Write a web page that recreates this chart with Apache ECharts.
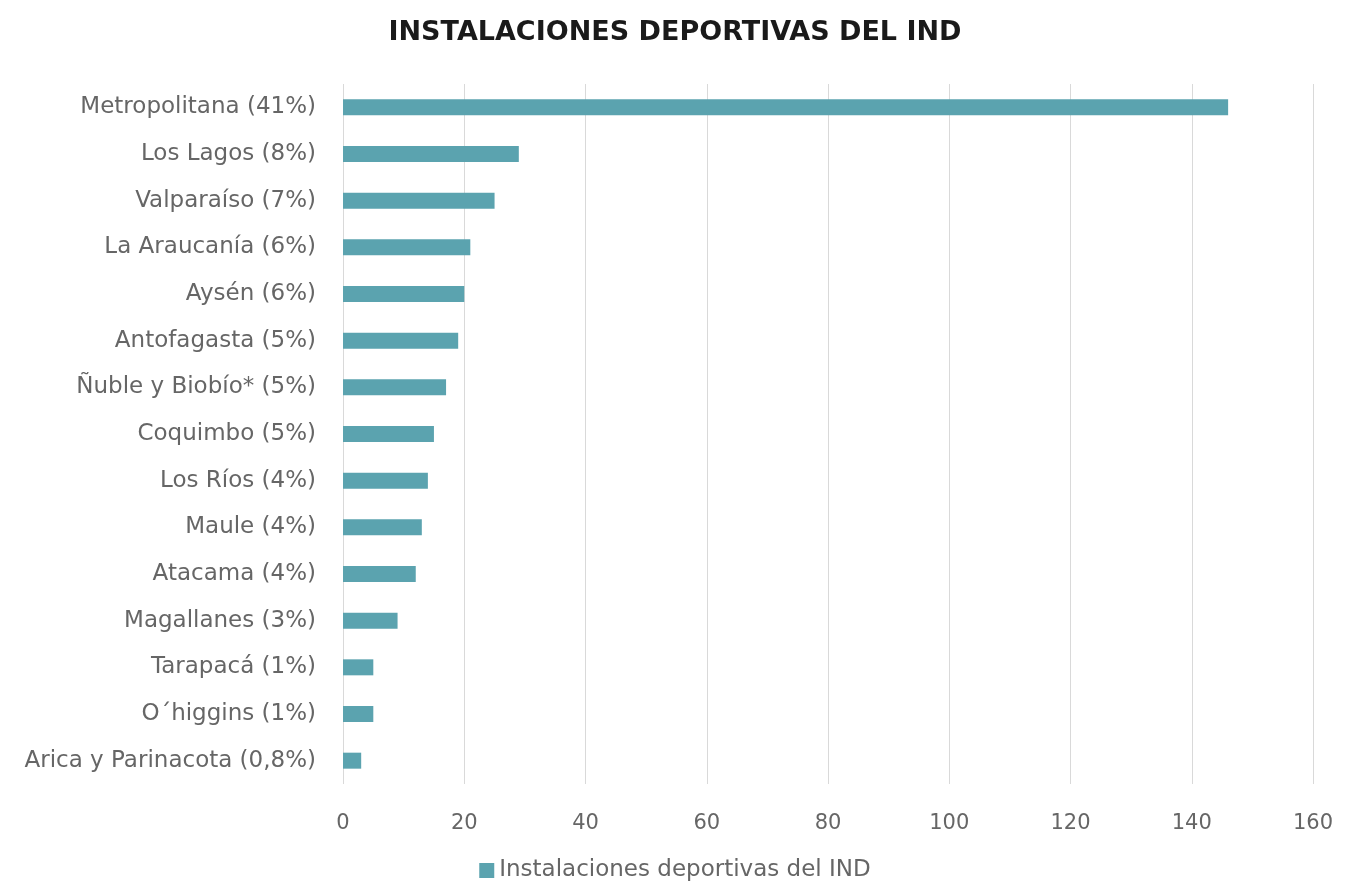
<!DOCTYPE html>
<html>
<head>
<meta charset="utf-8">
<script src="https://cdn.jsdelivr.net/npm/echarts@6/dist/echarts.min.js"></script>
<style>html,body{margin:0;padding:0;background:#fff}#c{width:1350px;height:889px}</style>
</head>
<body>
<div id="c"></div>
<script>
const categories = [
  "Metropolitana (41%)", "Los Lagos (8%)", "Valparaíso (7%)", "La Araucanía (6%)",
  "Aysén (6%)", "Antofagasta (5%)", "Ñuble y Biobío* (5%)", "Coquimbo (5%)",
  "Los Ríos (4%)", "Maule (4%)", "Atacama (4%)", "Magallanes (3%)",
  "Tarapacá (1%)", "O´higgins (1%)", "Arica y Parinacota (0,8%)"
];
const values = [146, 29, 25, 21, 20, 19, 17, 15, 14, 13, 12, 9, 5, 5, 3];
const seriesName = "Instalaciones deportivas del IND";
const titleText = "INSTALACIONES DEPORTIVAS DEL IND";

const font = "'DejaVu Sans', sans-serif";
const chart = echarts.init(document.getElementById('c'));
chart.setOption({
  animation: false,
  title: {
    text: titleText, left: 'center', top: 14,
    textStyle: { fontFamily: font, fontSize: 27, fontWeight: 'bold', color: '#1a1a1a' }
  },
  legend: {
    data: [seriesName], bottom: 2, left: 'center',
    itemWidth: 15, itemHeight: 15, icon: 'rect', itemGap: 8,
    textStyle: { fontFamily: font, fontSize: 23, color: '#666' }
  },
  grid: { left: 343, right: 37, top: 84, height: 700 },
  xAxis: {
    type: 'value', min: 0, max: 160, interval: 20,
    axisLine: { show: false }, axisTick: { show: false },
    splitLine: { lineStyle: { color: '#d9d9d9', width: 1 } },
    axisLabel: { fontFamily: font, fontSize: 21, color: '#666', margin: 29 }
  },
  yAxis: {
    type: 'category', data: categories, inverse: true,
    axisLine: { show: false }, axisTick: { show: false },
    axisLabel: { fontFamily: font, fontSize: 23, color: '#666', margin: 27 }
  },
  series: [{
    name: seriesName, type: 'bar', data: values, barWidth: 16,
    itemStyle: { color: '#5BA3AF' }
  }]
});
</script>
</body>
</html>
